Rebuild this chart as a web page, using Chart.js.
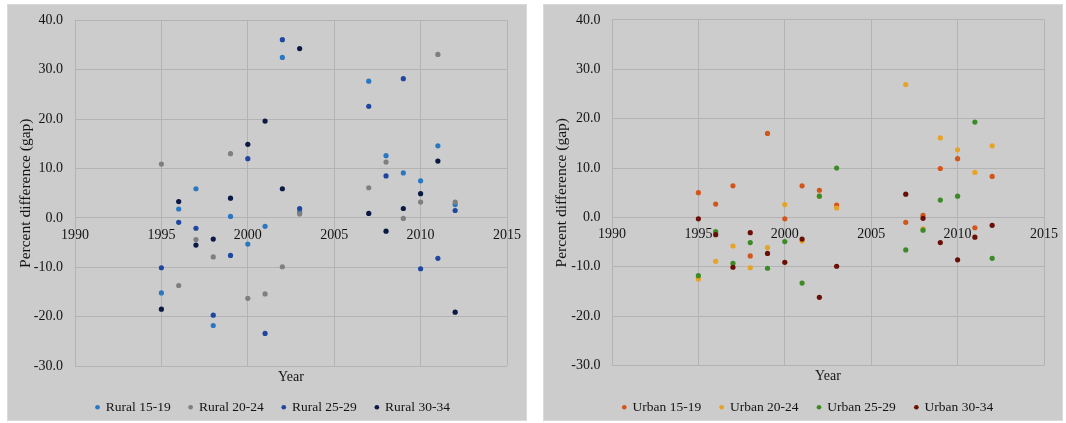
<!DOCTYPE html>
<html><head><meta charset="utf-8">
<script src="https://cdn.jsdelivr.net/npm/chart.js@4"></script>
<style>
html,body{margin:0;padding:0;background:#fff;overflow:hidden;width:1066px;height:423px;position:relative}
.panel{position:absolute;top:4px;height:417px;width:520px;background:#cccccc;box-sizing:border-box;border:1px solid #d9d9d9}
canvas{position:absolute;top:0}
</style></head><body>
<div class="panel" style="left:7px"></div>
<div class="panel" style="left:543px"></div>
<canvas id="c1" width="546" height="424" style="left:0px"></canvas>
<canvas id="c2" width="544" height="424" style="left:536px"></canvas>
<script>
// ---- data ----
const years = [1995,1996,1997,1998,1999,2000,2001,2002,2003,2007,2008,2009,2010,2011,2012];
const xTicks = [1990,1995,2000,2005,2010,2015];
const yTicks = [-30,-20,-10,0,10,20,30,40];

const ruralLabels = ['Rural 15-19','Rural 20-24','Rural 25-29','Rural 30-34'];
const rural1519 = [-15.2, 1.8, 5.9,-21.8, 0.3, -5.3, -1.7, 32.5, 1.2, 27.7, 12.6, 9.1, 7.5, 14.6, 2.7];
const rural2024 = [10.9,-13.7,-4.4, -7.9,13.0,-16.3,-15.4, -9.9, 0.8,  6.1, 11.3,-0.1, 3.2, 33.1, 3.2];
const rural2529 = [-10.1,-0.9,-2.1,-19.7,-7.6, 12.0,-23.4, 36.1, 1.9, 22.6,  8.5,28.2,-10.3,-8.2, 1.5];
const rural3034 = [-18.5, 3.3,-5.5, -4.3, 4.0, 14.9, 19.6,  5.9,34.3,  0.9, -2.7, 1.9, 4.9, 11.5,-19.1];

const urbanLabels = ['Urban 15-19','Urban 20-24','Urban 25-29','Urban 30-34'];
const urban1519 = [5.0, 2.7,  6.4, -7.8, 17.0,-0.3,  6.4,  5.5, 2.5, -1.0, 0.4, 9.9, 11.9,-2.1, 8.3];
const urban2024 = [-12.5,-8.9,-5.8,-10.2,-6.1, 2.6, -4.8,  4.3, 1.9, 26.9,-2.3,16.1, 13.7, 9.1,14.5];
const urban2529 = [-11.8,-2.9,-9.3, -5.1,-10.3,-4.9,-13.3, 4.3,10.0, -6.6,-2.6, 3.5,  4.3,19.3,-8.3];
const urban3034 = [-0.3,-3.5,-10.1,-3.1, -7.3,-9.1, -4.4,-16.2,-9.9,  4.7,-0.2,-5.1, -8.6,-4.0,-1.6];

const ruralColors = ['#2b78c2','#7f7f7f','#1f47a0','#0b1a44'];
const urbanColors = ['#d2561b','#e6a325','#3d8b27','#6a0f05'];

// ---- styling ----
const gridColor = '#b3b3b3';
const textColor = '#141414';
Chart.defaults.font.family = "'Liberation Serif','Times New Roman',serif";
Chart.defaults.color = textColor;

function makeChart(id, labels, series, colors, cfg) {
  const datasets = series.map((vals, i) => ({
    label: labels[i],
    data: years.map((yr, k) => ({x: yr, y: vals[k]})),
    backgroundColor: colors[i],
    borderColor: colors[i],
    pointRadius: 2.6,
    pointHoverRadius: 2.6,
    pointBorderWidth: 0,
    pointStyle: 'circle',
    order: series.length - i
  }));
  return new Chart(document.getElementById(id), {
    type: 'scatter',
    data: {datasets},
    options: {
      responsive: false,
      animation: false,
      devicePixelRatio: 1,
      layout: {padding: {top: 16, left: 0, right: 0, bottom: 0}},
      plugins: {
        tooltip: {enabled: false},
        legend: {
          position: 'bottom', align: 'center',
          labels: {
            usePointStyle: true, pointStyle: 'circle',
            boxWidth: 3, boxHeight: 3.3,
            padding: cfg.legPad,
            font: {size: 13.5},
            color: textColor,
            sort: (a, b) => a.datasetIndex - b.datasetIndex
          }
        },
        title: {
          display: true, text: 'Year', position: 'bottom', fullSize: false, weight: 500,
          align: 'center', color: textColor,
          font: {size: 14, weight: 'normal', lineHeight: 1},
          padding: {top: 4, bottom: -2}
        }
      },
      scales: {
        x: {
          type: 'linear', position: {y: 0}, min: 1990, max: 2015,
          afterFit: s => { s.height = 0; },
          afterBuildTicks: s => { s.ticks = xTicks.map(v => ({value: v})); },
          ticks: {callback: v => String(v), padding: 9, maxRotation: 0, autoSkip: false, font: {size: 14}, color: textColor},
          grid: {color: gridColor, drawTicks: false, lineWidth: 1},
          border: {color: gridColor, width: 1}
        },
        y: {
          type: 'linear', position: 'left', min: -30, max: 40,
          afterFit: s => { s.width = cfg.yW; },
          afterBuildTicks: s => { s.ticks = yTicks.map(v => ({value: v})); },
          ticks: {callback: v => Number(v).toFixed(1), padding: cfg.tickPad, font: {size: 14}, color: textColor},
          grid: {color: gridColor, drawTicks: false, lineWidth: 1},
          border: {color: gridColor, width: 1},
          title: {display: true, text: 'Percent difference (gap)', color: textColor, font: {size: 15.5}, padding: {top: 16.5, bottom: 0}}
        },
        yR: {
          type: 'linear', position: 'right', display: false,
          afterFit: s => { s.width = cfg.padR; }
        }
      }
    }
  });
}

makeChart('c1', ruralLabels, [rural1519, rural2024, rural2529, rural3034], ruralColors,
  {legPad: 18.5, yW: 75, padR: 39, tickPad: 12});
makeChart('c2', urbanLabels, [urban1519, urban2024, urban2529, urban3034], urbanColors,
  {legPad: 19, yW: 76, padR: 36, tickPad: 11.5});
</script>
</body></html>
